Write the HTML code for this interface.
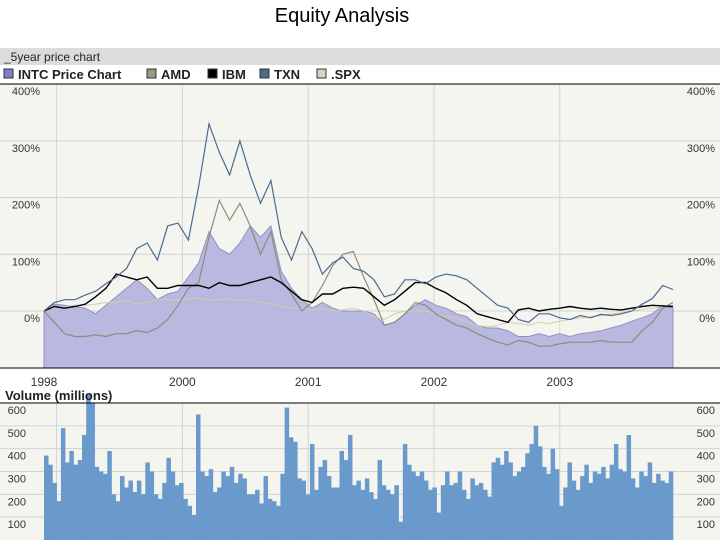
<!DOCTYPE html>
<html><head><meta charset="utf-8"><style>
body{margin:0;background:#fff;width:720px;height:540px;overflow:hidden}
svg{display:block;font-family:"Liberation Sans",Arial,sans-serif}
</style></head><body>
<svg id="c" width="720" height="540" viewBox="0 0 720 540">
<text x="342" y="22" font-size="20" text-anchor="middle">Equity Analysis</text>
<rect x="0" y="48" width="720" height="17" fill="#dcdcdc"/>
<text x="4" y="61" font-size="12" fill="#222">_5year price chart</text>
<g id="legend"></g>
<rect x="0" y="84" width="720" height="284" fill="#f5f5f0"/>
<rect x="0" y="403" width="720" height="137" fill="#f5f5f0"/>
<g id="grid"></g>
<g id="price"></g>
<g id="vol"></g>
<line x1="0" y1="84" x2="720" y2="84" stroke="#000"/>
<line x1="0" y1="368" x2="720" y2="368" stroke="#000"/>
<line x1="0" y1="403" x2="720" y2="403" stroke="#000"/>
<text x="5" y="400" font-size="13" font-weight="bold" fill="#222">Volume (millions)</text>
<g id="labels"></g>
</svg>
<script>
const NS="http://www.w3.org/2000/svg";
const legendNames=["INTC Price Chart","AMD","IBM","TXN",".SPX"];
const legendColors=["#8080c8","#9a9a84","#000000","#4a6a90","#d4d4c4"];
const pctTicks=[400,300,200,100,0];
const volTicks=[600,500,400,300,200,100];
const yearTicks=[1999,2000,2001,2002,2003];
const yearLabels=["1998","2000","2001","2002","2003"];
const INTC=[0,12,10,8,5,-5,10,25,40,55,40,20,30,35,60,85,140,110,100,120,150,130,150,70,40,20,5,15,5,0,0,0,-5,-25,-20,-5,10,20,10,5,-5,-10,-25,-30,-30,-35,-45,-45,-40,-45,-40,-45,-40,-38,-35,-30,-25,-18,-12,-5,10,5];
const AMD=[0,-20,-40,-45,-45,-42,-45,-40,-40,-35,-38,-30,-15,10,40,50,130,195,160,190,150,100,140,55,30,0,15,45,80,100,105,60,20,-25,-20,-5,15,10,-5,-15,-25,-30,-40,-48,-55,-60,-52,-55,-62,-62,-58,-55,-55,-55,-52,-55,-55,-55,-35,-20,5,15];
const IBM=[0,8,5,8,12,25,40,65,60,55,60,40,40,45,45,45,40,50,45,45,50,55,60,50,35,20,15,30,30,40,42,40,25,10,20,35,50,50,40,32,20,10,-5,-10,-15,-20,2,5,0,3,5,8,5,3,5,3,2,5,8,10,9,8];
const TXN=[0,15,20,20,28,35,48,60,75,110,120,90,150,155,125,220,330,280,240,300,240,190,230,130,90,140,110,65,85,95,75,70,55,25,30,55,55,48,60,65,62,55,40,25,10,5,-15,-20,-5,-5,-12,-15,-8,-12,-6,-8,-5,0,12,22,45,38];
const SPX=[0,5,8,10,10,12,15,15,18,12,15,20,20,18,22,22,20,20,22,18,20,15,12,8,5,5,2,5,0,2,5,0,-10,-15,-5,0,0,0,-5,-10,-12,-20,-25,-28,-25,-20,-22,-25,-20,-22,-18,-15,-12,-10,-8,-5,-3,0,3,5,8,10];
const volume=[370,330,250,170,490,340,390,330,350,460,640,600,320,300,290,390,200,170,280,230,260,210,260,200,340,300,200,180,250,360,300,240,250,180,150,110,550,300,280,310,210,230,300,280,320,250,290,270,200,200,220,160,280,180,170,150,290,580,450,430,270,260,200,420,220,320,350,280,230,230,390,350,460,240,260,220,270,210,180,350,240,220,200,240,80,420,330,300,280,300,260,220,230,120,240,300,240,250,300,220,180,270,240,250,220,190,340,360,330,390,340,280,300,320,380,420,500,410,320,290,400,310,150,230,340,260,220,280,330,250,300,290,320,270,330,420,310,300,460,270,230,300,280,340,250,290,260,250,300];

const X0=44,X1=673;
const t0=1998.9,t1=2003.9;
const xT=t=>X0+(t-t0)/(t1-t0)*(X1-X0);
const yP=p=>311-p*0.567;
const yV=v=>540-v*0.2283;
const xI=i=>X0+i*(X1-X0)/(INTC.length-1);
function el(tag,attrs,parent){const e=document.createElementNS(NS,tag);for(const k in attrs)e.setAttribute(k,attrs[k]);parent.appendChild(e);return e;}
const grid=document.getElementById('grid'),labels=document.getElementById('labels');
pctTicks.forEach(p=>{
  const l=el('line',{x1:0,x2:720,y1:yP(p),y2:yP(p),stroke:'#d2d2d2'},grid);
  
  
  const a=el('text',{x:40,y:yP(p)+11,'font-size':11,'text-anchor':'end',fill:'#333'},labels);a.textContent=p+'%';
  
  
  const b=el('text',{x:715,y:yP(p)+11,'font-size':11,'text-anchor':'end',fill:'#333'},labels);b.textContent=p+'%';
  
  
});
volTicks.forEach(v=>{
  const l=el('line',{x1:0,x2:720,y1:yV(v),y2:yV(v),stroke:'#d2d2d2'},grid);
  
  
  const a=el('text',{x:26,y:yV(v)+11,'font-size':11,'text-anchor':'end',fill:'#333'},labels);a.textContent=v;
  
  
  const b=el('text',{x:715,y:yV(v)+11,'font-size':11,'text-anchor':'end',fill:'#333'},labels);b.textContent=v;
  
  
});
yearTicks.forEach((y,i)=>{
  const x=xT(y);
  const l=el('line',{x1:x,x2:x,y1:84,y2:368,stroke:'#d2d2d2'},grid);
  
  
  const l2=el('line',{x1:x,x2:x,y1:403,y2:540,stroke:'#d2d2d2'},grid);
  
  
  const tx=i===0?X0:x;
  const a=el('text',{x:tx,y:386,'font-size':12,'text-anchor':'middle',fill:'#333'},labels);a.textContent=yearLabels[i];
  
  
});
const price=document.getElementById('price');
let d='M'+X0+','+368;
INTC.forEach((v,i)=>{d+=' L'+xI(i).toFixed(1)+','+yP(v).toFixed(1);});
d+=' L'+X1+',368 Z';
const area=el('path',{d:d,fill:'#b8b8e0',stroke:'#9090c8','stroke-width':1},price);


const series=[[SPX,'#d2cfa8','spx-line',1],[AMD,'#8c8c7a','amd-line',1.2],[IBM,'#000','ibm-line',1.4],[TXN,'#4a6a8e','txn-line',1.2]];
series.forEach(s=>{
  const pts=s[0].map((v,i)=>xI(i).toFixed(1)+','+yP(v).toFixed(1)).join(' ');
  const p=el('polyline',{points:pts,fill:'none',stroke:s[1],'stroke-width':s[3]},price);
  
  
});
const vol=document.getElementById('vol');
const bw=(X1-X0)/volume.length;
volume.forEach((v,i)=>{
  const r=el('rect',{x:(X0+i*bw).toFixed(2),y:yV(v).toFixed(1),width:(bw+0.3).toFixed(2),height:(540-yV(v)).toFixed(1),fill:'#6a9acb'},vol);
  
  
});
const leg=document.getElementById('legend');
const legendX=[4,147,208,260,317];
legendNames.forEach((n,i)=>{
  const lx=legendX[i];
  const r=el('rect',{x:lx,y:69,width:9,height:9,fill:legendColors[i],stroke:'#333','stroke-width':1},leg);
  
  
  const t=el('text',{x:lx+14,y:79,'font-size':13,'font-weight':'bold',fill:'#222'},leg);t.textContent=n;
  
  
});
</script>
</body></html>
